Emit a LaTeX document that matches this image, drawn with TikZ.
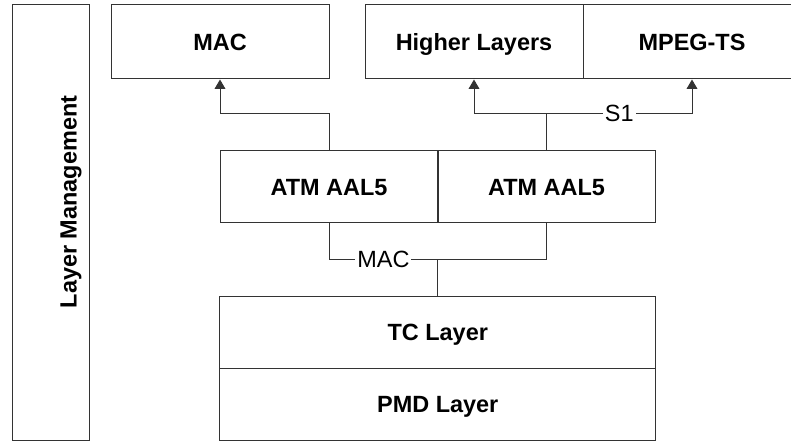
\documentclass[tikz,border=0pt]{standalone}
\usepackage{fontspec}
\setmainfont{Liberation Sans}
\usepackage{tikz}
\usetikzlibrary{positioning, arrows.meta}

\begin{document}
\begin{tikzpicture}[x=0.75pt, y=-0.75pt,
      font=\fontsize{17.6}{20}\selectfont,
      layer/.style={draw=black!80, line width=0.75pt, inner sep=0pt, font=\fontsize{17.6}{20}\selectfont\bfseries,
          text height=12.6pt, text depth=0pt, minimum width=163.5pt, minimum height=54pt},
      link/.style={draw=black!80, line width=0.75pt},
      uparrow/.style={link, -{Triangle[width=8pt,length=7pt]}},
      linklabel/.style={fill=white, inner sep=1.5pt}]

      \useasboundingbox (0,0) rectangle (791,441);
      \clip (0,0) rectangle (791,441);

      % Management column
      \node[layer, minimum width=57.75pt, minimum height=326.25pt] (mgmt) at (50.5,222.5) {};
      \node[rotate=90, inner sep=0pt, font=\fontsize{17.6}{20}\selectfont\bfseries] (mgmtlabel) at (71,202) {Layer Management};

      % Upper layers
      \node[layer, minimum height=55.5pt] (mac) at (220,42) {MAC};
      \node[layer, minimum height=55.5pt] (higher) at (474,42) {Higher Layers};
      \node[layer, minimum height=55.5pt] (mpeg) at (692,42) {MPEG-TS};

      % ATM
      \node[layer] (atmA) at (329,187) {ATM AAL5};
      \node[layer] (atmB) at (546.5,187) {ATM AAL5};

      % Lower layers
      \node[layer, minimum width=327pt] (tc) at (437.75,332) {TC Layer};
      \node[layer, minimum width=327pt] (pmd) at (437.75,404) {PMD Layer};

      % Connections up
      \path (atmA.north) ++(0,-37) coordinate (macJ);
      \draw[link] (atmA.north) -- (macJ);
      \draw[uparrow] (macJ) -| (mac.south);

      \path (atmB.north) ++(0,-37) coordinate (sJ);
      \draw[link] (atmB.north) -- (sJ);
      \draw[uparrow] (sJ) -| (higher.south);
      \draw[uparrow] (sJ) -| node[pos=0.25, linklabel] (s1) {S1} (mpeg.south);

      % Connections down
      \path (tc.north) ++(0,-36) coordinate (tcJ);
      \draw[link] (atmA.south) |- node[pos=0.75, linklabel] (maclabel) {MAC} (tcJ);
      \draw[link] (atmB.south) |- (tcJ);
      \draw[link] (tcJ) -- (tc.north);
  \end{tikzpicture}
\end{document}
